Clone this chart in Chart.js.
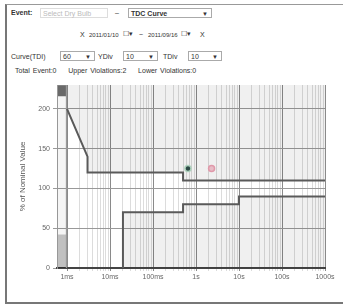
<!DOCTYPE html>
<html lang="en">
  <head>
    <meta charset="UTF-8" />
    <title>ITIC Curve</title>
    <script src="https://cdn.jsdelivr.net/npm/chart.js"></script>
    <style>
      body { margin: 0; width: 343px; height: 306px; background: #fff; font-family: "Liberation Sans", Arial, sans-serif; font-size: 7px; color: #333; position: relative; overflow: hidden; }
      #frame { position: absolute; left: 5px; top: 4px; width: 338px; height: 297px; border-left: 2px solid #777; border-top: 1px solid #999; border-bottom: 2px solid #777; }
      .t { position: absolute; white-space: nowrap; }
      .box { position: absolute; border: 1px solid #aaa; background: #fff; height: 10px; line-height: 10px; padding-left: 2px; box-sizing: border-box; }
      .box .arr { position: absolute; right: 3px; top: 0; font-size: 6px; }
      .d { font-size: 6px; }
      canvas { position: absolute; left: 8px; top: 76px; }
    </style>
  </head>
  <body>
    <div id="frame"></div>
    <div class="t" style="left:11px;top:9px;font-weight:bold">Event:</div>
    <div class="box" style="left:40px;top:8px;width:68px;color:#bbb;border-color:#ddd">Select Dry Bulb</div>
    <div class="t" style="left:115px;top:9px">–</div>
    <div class="box" style="left:128px;top:8px;width:84px;font-weight:bold">TDC Curve<span class="arr">▼</span></div>

    <div class="t" style="left:80px;top:31px">X</div>
    <div class="t d" style="left:89px;top:32px">2011/01/10</div>
    <div class="t" style="left:123px;top:30px">☐▾</div>
    <div class="t" style="left:139px;top:31px">~</div>
    <div class="t d" style="left:148px;top:32px">2011/09/16</div>
    <div class="t" style="left:181px;top:30px">☐▾</div>
    <div class="t" style="left:200px;top:31px">X</div>

    <div class="t" style="left:11px;top:53px">Curve(TDI)</div>
    <div class="box" style="left:60px;top:51px;width:35px">60<span class="arr">▼</span></div>
    <div class="t" style="left:98px;top:53px">YDiv</div>
    <div class="box" style="left:123px;top:51px;width:35px">10<span class="arr">▼</span></div>
    <div class="t" style="left:163px;top:53px">TDiv</div>
    <div class="box" style="left:188px;top:51px;width:34px">10<span class="arr">▼</span></div>

    <div class="t" style="left:15px;top:67px;word-spacing:1px">Total Event:0&nbsp;&nbsp;&nbsp; Upper Violations:2&nbsp;&nbsp;&nbsp; Lower Violations:0</div>

    <canvas id="iticChart" width="330" height="212"></canvas>

    <script>
      // durations in seconds, values in % of nominal
      const upperX = [0.001, 0.003, 0.003, 0.5, 0.5, 1000];
      const upperY = [200, 140, 120, 120, 110, 110];
      const lowerX = [0.02, 0.02, 0.5, 0.5, 10, 10, 1000];
      const lowerY = [0, 70, 70, 80, 80, 90, 90];
      const eventX = [0.65, 2.3];
      const eventY = [125, 125];
      const eventColors = ["#2f4f4a", "#f7c9d4"];
      const eventBorders = ["#b9dfc9", "#eea3b5"];
      const barX = [0.0006, 0.00097];
      const barTop = 230;
      const barCap = 216;
      const barBase = 42;
      const decades = [0.001, 0.01, 0.1, 1, 10, 100, 1000];
      const decadeLabels = ["1ms", "10ms", "100ms", "1s", "10s", "100s", "1000s"];
      const yTicks = [0, 50, 100, 150, 200];

      const pts = (xs, ys) => xs.map((x, i) => ({ x: x, y: ys[i] }));
      const rect = (lo, hi) => [
        { x: barX[0], y: lo }, { x: barX[0], y: hi },
        { x: barX[1], y: hi }, { x: barX[1], y: lo }
      ];

      const ctx = document.getElementById("iticChart").getContext("2d");

      new Chart(ctx, {
        type: "line",
        data: {
          datasets: [
            {
              label: "Upper",
              data: pts(upperX, upperY),
              borderColor: "#5a5a5a",
              borderWidth: 2,
              pointRadius: 0,
              fill: "end",
              backgroundColor: "rgba(0,0,0,0.06)",
            },
            {
              label: "Lower",
              data: pts(lowerX, lowerY),
              borderColor: "#5a5a5a",
              borderWidth: 2,
              pointRadius: 0,
              fill: "start",
              backgroundColor: "rgba(0,0,0,0.06)",
            },
            {
              label: "Events",
              data: pts(eventX, eventY),
              showLine: false,
              pointRadius: 3,
              pointBorderWidth: 1.5,
              pointBackgroundColor: eventColors,
              pointBorderColor: eventBorders,
            },
            {
              label: "bar",
              data: rect(0, barTop),
              borderColor: "#999",
              borderWidth: 1,
              pointRadius: 0,
              fill: "origin",
              backgroundColor: "rgba(0,0,0,0.04)",
            },
            {
              label: "bar top",
              data: rect(barCap, barTop),
              borderWidth: 0,
              pointRadius: 0,
              fill: { value: barCap },
              backgroundColor: "rgba(60,60,60,0.75)",
            },
            {
              label: "bar base",
              data: rect(0, barBase),
              borderWidth: 0,
              pointRadius: 0,
              fill: "origin",
              backgroundColor: "rgba(0,0,0,0.22)",
            },
          ],
        },
        options: {
          responsive: false,
          animation: false,
          layout: { padding: { top: 9, right: 13, left: 0, bottom: 0 } },
          plugins: { legend: { display: false }, tooltip: { enabled: false } },
          scales: {
            x: {
              type: "logarithmic",
              min: 0.000585,
              max: 1000,
              afterBuildTicks: (scale) => {
                const t = [];
                decades.forEach((d) => {
                  for (let k = 1; k < 10; k++) {
                    if (d * k <= 1000) t.push({ value: d * k });
                  }
                });
                scale.ticks = t;
              },
              afterFit: (scale) => { scale.height = 20; },
              ticks: {
                autoSkip: false,
                maxRotation: 0,
                color: "#666",
                font: { size: 7, family: "Liberation Sans" },
                padding: 2,
                callback: (v) => {
                  const i = decades.findIndex((d) => Math.abs(d - v) / d < 1e-6);
                  return i >= 0 ? decadeLabels[i] : "";
                },
              },
              grid: {
                color: (c) => {
                  const v = c.tick ? c.tick.value : 0;
                  return decades.some((d) => Math.abs(d - v) / d < 1e-6) ? "#8a8a8a" : "#dcdcdc";
                },
                tickLength: 3,
              },
              border: { color: "#444", width: 2 },
            },
            y: {
              min: 0,
              max: 230,
              afterBuildTicks: (scale) => {
                scale.ticks = yTicks.map((v) => ({ value: v }));
              },
              afterFit: (scale) => { scale.width = 49; },
              ticks: {
                color: "#666",
                font: { size: 7, family: "Liberation Sans" },
                padding: 3,
              },
              grid: { color: "#999", tickLength: 4 },
              border: { color: "#999" },
              title: {
                display: true,
                text: "% of Nominal Value",
                color: "#555",
                font: { size: 8, family: "Liberation Sans" },
                padding: { top: 10, bottom: 0 },
              },
            },
          },
        },
      });
    </script>
  </body>
</html>
